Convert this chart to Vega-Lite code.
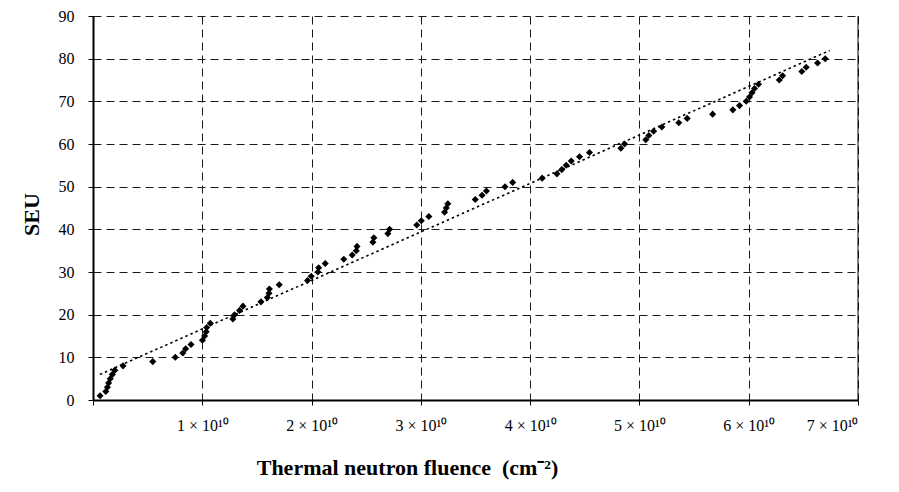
{
  "$schema": "https://vega.github.io/schema/vega-lite/v6.json",
  "autosize": {"type": "none"},
  "padding": {"left": 93, "top": 16, "right": 41, "bottom": 92},
  "width": 765,
  "height": 384,
  "background": "white",
  "config": {
    "view": {"stroke": null},
    "font": "Liberation Serif",
    "axis": {
      "labelFont": "Liberation Serif",
      "titleFont": "Liberation Serif",
      "labelColor": "black",
      "titleColor": "black",
      "domainColor": "black",
      "domainWidth": 2,
      "tickColor": "black",
      "tickWidth": 1,
      "tickSize": 5,
      "gridColor": "#1a1a1a",
      "gridDash": [8, 5],
      "gridWidth": 1,
      "gridOpacity": 1
    }
  },
  "datasets": {
    "points": [
      {"fluence": 6.5e8, "seu": 1}, {"fluence": 1.17e9, "seu": 2}, {"fluence": 1.32e9, "seu": 3},
      {"fluence": 1.43e9, "seu": 4}, {"fluence": 1.58e9, "seu": 5}, {"fluence": 1.77e9, "seu": 6},
      {"fluence": 2.0e9, "seu": 7}, {"fluence": 2.75e9, "seu": 8}, {"fluence": 5.47e9, "seu": 9},
      {"fluence": 7.53e9, "seu": 10}, {"fluence": 8.22e9, "seu": 11}, {"fluence": 8.48e9, "seu": 12},
      {"fluence": 8.97e9, "seu": 13}, {"fluence": 1.001e10, "seu": 14}, {"fluence": 1.021e10, "seu": 15},
      {"fluence": 1.036e10, "seu": 16}, {"fluence": 1.040e10, "seu": 17}, {"fluence": 1.073e10, "seu": 18},
      {"fluence": 1.280e10, "seu": 19}, {"fluence": 1.295e10, "seu": 20}, {"fluence": 1.341e10, "seu": 21},
      {"fluence": 1.372e10, "seu": 22}, {"fluence": 1.537e10, "seu": 23}, {"fluence": 1.595e10, "seu": 24},
      {"fluence": 1.610e10, "seu": 25}, {"fluence": 1.614e10, "seu": 26}, {"fluence": 1.704e10, "seu": 27},
      {"fluence": 1.963e10, "seu": 28}, {"fluence": 1.997e10, "seu": 29}, {"fluence": 2.058e10, "seu": 30},
      {"fluence": 2.065e10, "seu": 31}, {"fluence": 2.125e10, "seu": 32}, {"fluence": 2.295e10, "seu": 33},
      {"fluence": 2.372e10, "seu": 34}, {"fluence": 2.409e10, "seu": 35}, {"fluence": 2.416e10, "seu": 36},
      {"fluence": 2.561e10, "seu": 37}, {"fluence": 2.570e10, "seu": 38}, {"fluence": 2.698e10, "seu": 39},
      {"fluence": 2.714e10, "seu": 40}, {"fluence": 2.963e10, "seu": 41}, {"fluence": 3.004e10, "seu": 42},
      {"fluence": 3.073e10, "seu": 43}, {"fluence": 3.217e10, "seu": 44}, {"fluence": 3.232e10, "seu": 45},
      {"fluence": 3.247e10, "seu": 46}, {"fluence": 3.498e10, "seu": 47}, {"fluence": 3.56e10, "seu": 48},
      {"fluence": 3.60e10, "seu": 49}, {"fluence": 3.77e10, "seu": 50}, {"fluence": 3.84e10, "seu": 51},
      {"fluence": 4.11e10, "seu": 52}, {"fluence": 4.245e10, "seu": 53}, {"fluence": 4.29e10, "seu": 54},
      {"fluence": 4.33e10, "seu": 55}, {"fluence": 4.376e10, "seu": 56}, {"fluence": 4.452e10, "seu": 57},
      {"fluence": 4.543e10, "seu": 58}, {"fluence": 4.83e10, "seu": 59}, {"fluence": 4.864e10, "seu": 60},
      {"fluence": 5.058e10, "seu": 61}, {"fluence": 5.086e10, "seu": 62}, {"fluence": 5.13e10, "seu": 63},
      {"fluence": 5.205e10, "seu": 64}, {"fluence": 5.36e10, "seu": 65}, {"fluence": 5.437e10, "seu": 66},
      {"fluence": 5.67e10, "seu": 67}, {"fluence": 5.855e10, "seu": 68}, {"fluence": 5.916e10, "seu": 69},
      {"fluence": 5.977e10, "seu": 70}, {"fluence": 6.007e10, "seu": 71}, {"fluence": 6.03e10, "seu": 72},
      {"fluence": 6.053e10, "seu": 73}, {"fluence": 6.09e10, "seu": 74}, {"fluence": 6.28e10, "seu": 75},
      {"fluence": 6.31e10, "seu": 76}, {"fluence": 6.486e10, "seu": 77}, {"fluence": 6.526e10, "seu": 78},
      {"fluence": 6.63e10, "seu": 79}, {"fluence": 6.70e10, "seu": 80}
    ],
    "trend": [
      {"fluence": 6.3e8, "seu": 6.0},
      {"fluence": 6.74e10, "seu": 81.9}
    ],
    "frame": [
      {"fluence": 7e10}
    ]
  },
  "layer": [
    {
      "data": {"name": "points"},
      "mark": {"type": "point", "shape": "diamond", "filled": true, "color": "black", "size": 50, "opacity": 1},
      "encoding": {
        "x": {
          "field": "fluence", "type": "quantitative",
          "scale": {"domain": [0, 7e10], "nice": false, "zero": false},
          "axis": {
            "values": [0, 1e10, 2e10, 3e10, 4e10, 5e10, 6e10, 7e10],
            "labelExpr": "datum.value == 0 ? '' : format(datum.value / 1e10, 'd') + ' × 10¹⁰'",
            "labelFontSize": 16,
            "labelPadding": 12,
            "title": "Thermal neutron fluence\u00a0 (cm⁻²)",
            "titleFontSize": 22,
            "titleFontWeight": "bold",
            "titleX": 314,
            "titleY": 67,
            "titleAlign": "center",
            "titleBaseline": "middle",
            "titleAnchor": null
          }
        },
        "y": {
          "field": "seu", "type": "quantitative",
          "scale": {"domain": [0, 90], "nice": false},
          "axis": {
            "values": [0, 10, 20, 30, 40, 50, 60, 70, 80, 90],
            "labelFontSize": 16,
            "labelPadding": 14,
            "title": "SEU",
            "titleFontSize": 22,
            "titleFontWeight": "bold",
            "titleX": -62,
            "titleY": 198,
            "titleAlign": "center",
            "titleBaseline": "middle",
            "titleAngle": 270
          }
        }
      }
    },
    {
      "data": {"name": "trend"},
      "mark": {"type": "line", "color": "black", "strokeWidth": 1.6, "strokeDash": [2.5, 3]},
      "encoding": {
        "x": {"field": "fluence", "type": "quantitative"},
        "y": {"field": "seu", "type": "quantitative"}
      }
    },
    {
      "data": {"name": "frame"},
      "mark": {"type": "rule", "color": "black", "strokeWidth": 1},
      "encoding": {
        "x": {"field": "fluence", "type": "quantitative"}
      }
    }
  ]
}
